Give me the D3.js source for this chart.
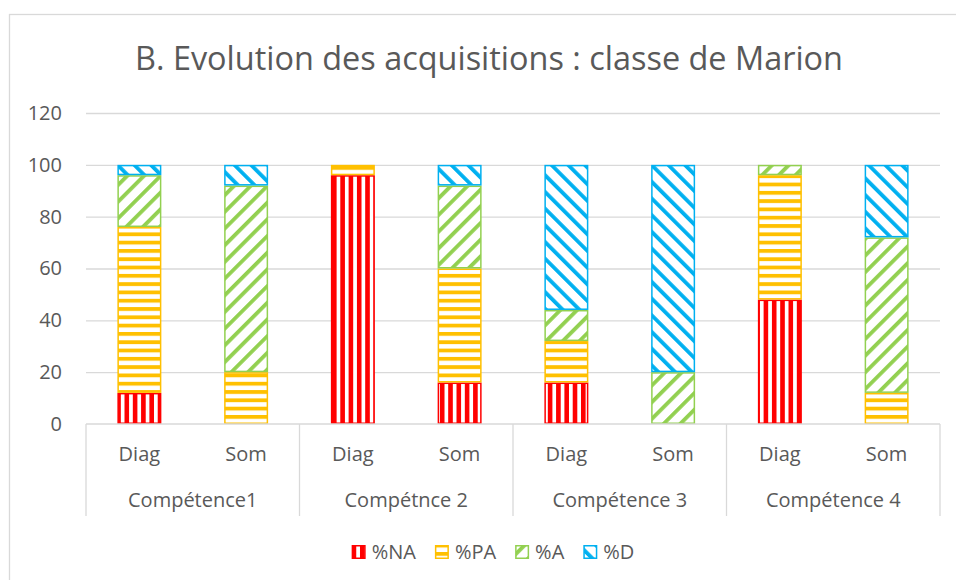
<!DOCTYPE html>
<html>
<head>
<meta charset="utf-8">
<script src="https://cdn.jsdelivr.net/npm/d3@7"></script>
<style>
  html, body { margin: 0; padding: 0; background: #fff; }
  svg { display: block; }
  text { font-family: "Open Sans", Lato, sans-serif; fill: #595959; font-variant-ligatures: none; }
</style>
</head>
<body>
<svg id="chart" width="956" height="580"></svg>
<script>
// Competences and the two assessments of each
const competences = ["Compétence1", "Compétnce 2", "Compétence 3", "Compétence 4"];
const phases = ["Diag", "Som"];

// Percentages per bar, in order C1 Diag, C1 Som, C2 Diag, ...
const pctNA = [12, 0, 96, 16, 16, 0, 48, 0];
const pctPA = [64, 20, 4, 44, 16, 0, 48, 12];
const pctA  = [20, 72, 0, 32, 12, 20, 4, 60];
const pctD  = [4, 8, 0, 8, 56, 80, 0, 28];

const seriesNames = ["%NA", "%PA", "%A", "%D"];
const yTicks = [0, 20, 40, 60, 80, 100, 120];

const colors = { "%NA": "#FF0000", "%PA": "#FFC000", "%A": "#92D050", "%D": "#00B0F0" };
const patternIds = { "%NA": "pNA", "%PA": "pPA", "%A": "pA", "%D": "pD" };

const rows = [];
competences.forEach((c, ci) => phases.forEach((p, pi) => {
  const i = ci * 2 + pi;
  rows.push({ comp: c, phase: p, "%NA": pctNA[i], "%PA": pctPA[i], "%A": pctA[i], "%D": pctD[i] });
}));

const svg = d3.select("#chart");
const plot = { left: 86, right: 940, top: 113, bottom: 424 };

// Hatch patterns
const defs = svg.append("defs");
// vertical stripes
const pNA = defs.append("pattern").attr("id", "pNA").attr("patternUnits", "userSpaceOnUse")
  .attr("width", 8.3).attr("height", 10);
pNA.append("rect").attr("width", 8.3).attr("height", 10).attr("fill", "#fff");
pNA.append("rect").attr("x", 0).attr("width", 4.6).attr("height", 10).attr("fill", colors["%NA"]);
// horizontal stripes
const pPA = defs.append("pattern").attr("id", "pPA").attr("patternUnits", "userSpaceOnUse")
  .attr("width", 10).attr("height", 8.3);
pPA.append("rect").attr("width", 10).attr("height", 8.3).attr("fill", "#fff");
pPA.append("rect").attr("y", 0).attr("width", 10).attr("height", 3.8).attr("fill", colors["%PA"]);
// diagonal stripes
function diag(id, color, angle) {
  const s = 11.8;
  const p = defs.append("pattern").attr("id", id).attr("patternUnits", "userSpaceOnUse")
    .attr("width", s).attr("height", s).attr("patternTransform", `rotate(${angle})`);
  p.append("rect").attr("width", s).attr("height", s).attr("fill", "#fff");
  p.append("rect").attr("width", 3.8).attr("height", s).attr("fill", color);
}
diag("pA", colors["%A"], 45);
diag("pD", colors["%D"], -45);

// Chart frame
svg.append("rect").attr("x", 9.5).attr("y", 14.5).attr("width", 980).attr("height", 600)
  .attr("fill", "none").attr("stroke", "#d9d9d9").attr("stroke-width", 1.3);

// Title
const title = svg.append("text").attr("x", 489).attr("y", 70).attr("text-anchor", "middle")
  .style("font-size", "32px").text("B. Evolution des acquisitions : classe de Marion");
title.attr("textLength", 708).attr("lengthAdjust", "spacingAndGlyphs");

// Scales
const y = d3.scaleLinear().domain([0, 120]).range([plot.bottom, plot.top]);
const x0 = d3.scaleBand().domain(competences).range([plot.left, plot.right]).padding(0);
const x1 = d3.scaleBand().domain(phases).range([0, x0.bandwidth()])
  .paddingInner(0.588).paddingOuter(0.294);

// Gridlines and value axis labels
const yAxis = d3.axisLeft(y).tickValues(yTicks).tickSize(-(plot.right - plot.left)).tickPadding(24);
const gy = svg.append("g").attr("transform", `translate(${plot.left},0)`).call(yAxis);
gy.select(".domain").remove();
gy.selectAll(".tick line").attr("stroke", "#d9d9d9").attr("stroke-width", 1.3)
  .filter(d => d === 0).remove();
gy.selectAll(".tick text").style("font-size", "20px").attr("fill", "#595959")
  .style("font-family", "'Open Sans', Lato, sans-serif");

// Stacked bars
const stack = d3.stack().keys(seriesNames);
const layers = stack(rows);
const gBars = svg.append("g");
layers.forEach(layer => {
  const key = layer.key;
  gBars.append("g").selectAll("rect")
    .data(layer.filter(d => d[1] - d[0] > 0))
    .join("rect")
    .attr("x", d => x0(d.data.comp) + x1(d.data.phase) + 0.75)
    .attr("width", x1.bandwidth() - 1.5)
    .attr("y", d => y(d[1]) + 0.75)
    .attr("height", d => y(d[0]) - y(d[1]) - 1.5)
    .attr("fill", `url(#${patternIds[key]})`)
    .attr("stroke", colors[key])
    .attr("stroke-width", 1.5);
});

// Category axis: baseline and group separators
const gx = svg.append("g").attr("stroke", "#d9d9d9").attr("stroke-width", 1.3);
gx.append("line").attr("x1", plot.left).attr("x2", plot.right)
  .attr("y1", plot.bottom).attr("y2", plot.bottom);
const seps = competences.map(c => x0(c)).concat([plot.right]);
gx.selectAll("line.sep").data(seps).join("line").attr("class", "sep")
  .attr("x1", d => d).attr("x2", d => d).attr("y1", plot.bottom).attr("y2", 516);

// Phase labels
const gl = svg.append("g");
rows.forEach(r => {
  gl.append("text").attr("x", x0(r.comp) + x1(r.phase) + x1.bandwidth() / 2).attr("y", 461)
    .attr("text-anchor", "middle").style("font-size", "20px").text(r.phase);
});
// Competence labels
competences.forEach(c => {
  gl.append("text").attr("x", x0(c) + x0.bandwidth() / 2).attr("y", 507)
    .attr("text-anchor", "middle").style("font-size", "20px").text(c);
});

// Legend
const legend = svg.append("g");
const items = seriesNames.map(name => {
  const g = legend.append("g");
  g.append("rect").attr("x", 0.75).attr("y", -6.25).attr("width", 12.5).attr("height", 12.5)
    .attr("fill", `url(#${patternIds[name]})`).attr("stroke", colors[name]).attr("stroke-width", 1.5);
  const t = g.append("text").attr("x", 20).attr("y", 7).style("font-size", "20px").text(name);
  return { g, w: 20 + t.node().getComputedTextLength() };
});
const gap = 19;
const total = d3.sum(items, d => d.w) + gap * (items.length - 1);
let lx = 493 - total / 2;
items.forEach(it => {
  it.g.attr("transform", `translate(${lx},552)`);
  lx += it.w + gap;
});
</script>
</body>
</html>
